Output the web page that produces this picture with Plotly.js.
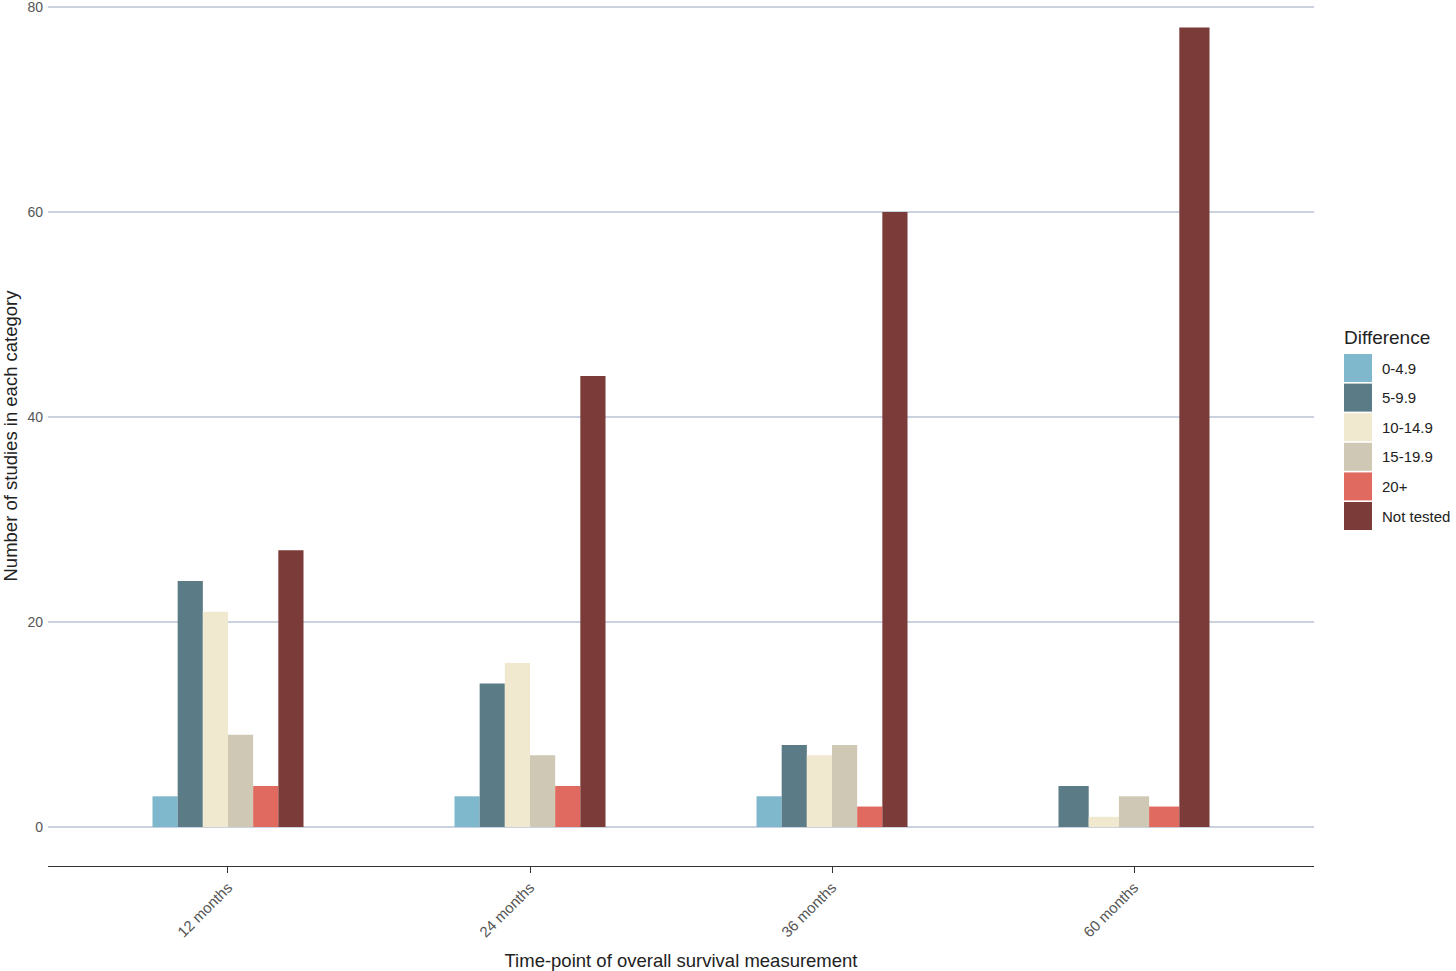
<!DOCTYPE html>
<html>
<head>
<meta charset="utf-8">
<script src="https://cdn.plot.ly/plotly-3.0.1.min.js"></script>
<style>html,body{margin:0;padding:0;background:#fff;}#chart{width:1456px;height:971px;}</style>
</head>
<body>
<div id="chart"></div>
<script>
const categories = ["12 months", "24 months", "36 months", "60 months"];
const seriesNames = ["0-4.9", "5-9.9", "10-14.9", "15-19.9", "20+", "Not tested"];
const s0_4 = [3, 3, 3, null];
const s5_9 = [24, 14, 8, 4];
const s10_14 = [21, 16, 7, 1];
const s15_19 = [9, 7, 8, 3];
const s20p = [4, 4, 2, 2];
const sNot = [27, 44, 60, 78];
const yTicks = [0, 20, 40, 60, 80];
const colors = ["#7fb8cc", "#5b7b87", "#f1e9cf", "#cfc8b4", "#e06a60", "#7a3b39"];

const allSeries = [s0_4, s5_9, s10_14, s15_19, s20p, sNot];

// dodge like ggplot: present bars share the group width (0.5 of a category)
const groupWidth = 0.5;
const data = allSeries.map((vals, i) => {
  const widths = [], offsets = [];
  categories.forEach((c, j) => {
    const present = allSeries.map(s => s[j] !== null && s[j] !== undefined);
    const n = present.filter(Boolean).length;
    const w = groupWidth / n;
    let k = 0;
    for (let t = 0; t < i; t++) if (present[t]) k++;
    widths.push(w);
    offsets.push(-groupWidth / 2 + k * w);
  });
  return {
    type: "bar",
    name: seriesNames[i],
    x: categories,
    y: vals,
    width: widths,
    offset: offsets,
    marker: {color: colors[i], line: {width: 0}},
    showlegend: false
  };
});

// plot area geometry in pixels for the hand-made legend
const L = 48, R = 1314, T = 6, B = 866;
const px = x => (x - L) / (R - L);
const py = y => (B - y) / (B - T);

const shapes = [];
const annotations = [{
  xref: "paper", yref: "paper", x: px(1342), y: py(337), xanchor: "left", yanchor: "middle",
  text: "Difference", showarrow: false, font: {size: 19, color: "#222"}
}];
seriesNames.forEach((name, i) => {
  const top = 354 + i * 29.6;
  shapes.push({
    type: "rect", xref: "paper", yref: "paper",
    x0: px(1344), x1: px(1372), y0: py(top), y1: py(top + 28),
    fillcolor: colors[i], line: {width: 0}
  });
  annotations.push({
    xref: "paper", yref: "paper", x: px(1380), y: py(top + 14), xanchor: "left", yanchor: "middle",
    text: name, showarrow: false, font: {size: 15, color: "#222"}
  });
});

const layout = {
  width: 1456, height: 971,
  margin: {l: L, r: 1456 - R, t: T, b: 971 - B},
  paper_bgcolor: "#fff", plot_bgcolor: "#fff",
  font: {family: "Liberation Sans, Arial, sans-serif", color: "#444"},
  barmode: "group",
  xaxis: {
    type: "category",
    range: [-0.596, 3.596],
    showgrid: false,
    showline: true, linecolor: "#333", linewidth: 1,
    ticks: "outside", ticklen: 6, tickcolor: "#333", tickwidth: 1,
    tickangle: -45,
    tickfont: {size: 15, color: "#555"},
    title: {text: "Time-point of overall survival measurement", font: {size: 18.5, color: "#222"}, standoff: 18}
  },
  yaxis: {
    range: [-3.8, 80.1],
    tickvals: yTicks,
    showgrid: true, gridcolor: "#c9d2de", gridwidth: 1.2,
    zeroline: false,
    showline: false,
    ticks: "",
    ticklabelstandoff: 4,
    ticklabeloverflow: "allow",
    tickfont: {size: 14, color: "#555"},
    title: {text: "Number of studies in each category", font: {size: 18.5, color: "#222"}, standoff: 10}
  },
  showlegend: false,
  shapes: shapes,
  annotations: annotations
};

Plotly.newPlot("chart", data, layout, {displayModeBar: false, staticPlot: true});
</script>
</body>
</html>
